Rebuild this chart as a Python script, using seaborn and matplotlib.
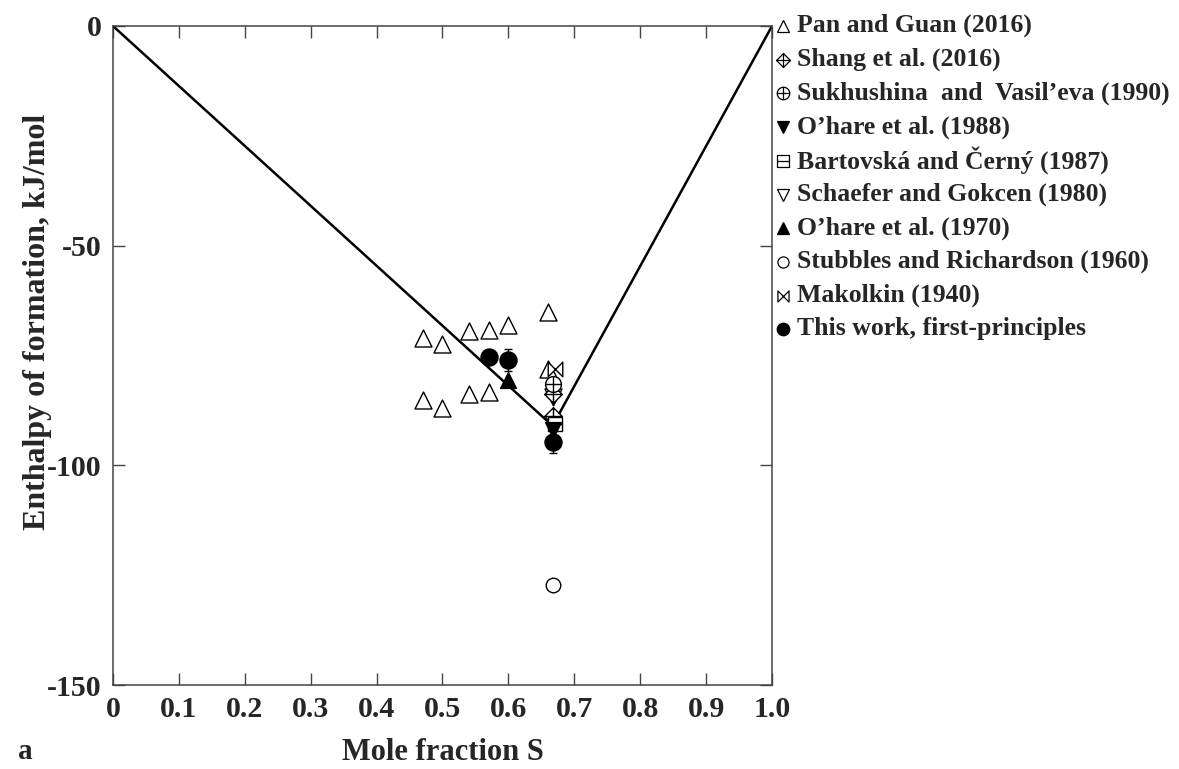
import numpy as np
import matplotlib
matplotlib.use("Agg")
import matplotlib.pyplot as plt
import seaborn as sns
from matplotlib.path import Path
from matplotlib.lines import Line2D

# ---------------- data ----------------
line_x = [0.0, 0.667, 1.0]
line_y = [0.0, -91.0, 0.0]

pan_x = [0.47, 0.50, 0.54, 0.57, 0.60, 0.66, 0.47, 0.50, 0.54, 0.57, 0.66]
pan_y = [-71.0, -72.3, -69.5, -69.3, -68.0, -65.0, -85.2, -87.0, -83.8, -83.2, -78.0]

shang_x = [0.667, 0.667]
shang_y = [-83.8, -88.8]

sukh_x = [0.667]
sukh_y = [-81.5]

ohare88_x = [0.667]
ohare88_y = [-92.0]

bart_x = [0.670]
bart_y = [-90.5]

schaefer_x = [0.667]
schaefer_y = [-84.5]

ohare70_x = [0.600]
ohare70_y = [-80.5]

stubbles_x = [0.667]
stubbles_y = [-127.2]

mako_x = [0.670]
mako_y = [-78.0]

tw_x = [0.571, 0.600, 0.667]
tw_y = [-75.3, -76.0, -94.7]
tw_err = [0.0, 2.5, 2.5]

legend_labels = [
    "Pan and Guan (2016)",
    "Shang et al. (2016)",
    "Sukhushina  and  Vasil\u2019eva (1990)",
    "O\u2019hare et al. (1988)",
    "Bartovsk\u00e1 and \u010cern\u00fd (1987)",
    "Schaefer and Gokcen (1980)",
    "O\u2019hare et al. (1970)",
    "Stubbles and Richardson (1960)",
    "Makolkin (1940)",
    "This work, first-principles",
]

xticks = [0, 0.1, 0.2, 0.3, 0.4, 0.5, 0.6, 0.7, 0.8, 0.9, 1.0]
xtick_labels = ["0", "0.1", "0.2", "0.3", "0.4", "0.5", "0.6", "0.7", "0.8", "0.9", "1.0"]
yticks = [0, -50, -100, -150]
ytick_labels = ["0", "-50", "-100", "-150"]

# ---------------- markers ----------------
cross = [Path([(-1, 0), (1, 0)]), Path([(0, -1), (0, 1)])]
diamond_plus = Path.make_compound_path(
    Path([(0, 1), (1, 0), (0, -1), (-1, 0), (0, 1)], closed=True), *cross)
circle_plus = Path.make_compound_path(Path.unit_circle(), *cross)
box_line = Path.make_compound_path(
    Path([(-1, -1), (1, -1), (1, 1), (-1, 1), (-1, -1)], closed=True),
    Path([(-1, 0), (1, 0)]))
bowtie = Path([(-1, 1), (-1, -1), (1, 1), (1, -1), (-1, 1)], closed=True)

# ---------------- style ----------------
sns.set_style("ticks")
plt.rcParams["font.family"] = ["Liberation Serif", "DejaVu Serif"]
plt.rcParams["font.weight"] = "bold"
plt.rcParams["axes.unicode_minus"] = False

W, H = 1179, 769
fig = plt.figure(figsize=(W / 100, H / 100), dpi=100)
ax = fig.add_axes([0.0958, 0.1092, 0.559, 0.857])

sns.lineplot(x=line_x, y=line_y, color="black", lw=1.8, ax=ax, zorder=2)

edge = "black"
lw = 1.0
sns.scatterplot(x=pan_x, y=pan_y, marker="^", s=150, color="white", edgecolor=edge, linewidth=lw, ax=ax, zorder=3)
sns.scatterplot(x=stubbles_x, y=stubbles_y, marker="o", s=110, color="white", edgecolor=edge, linewidth=lw, ax=ax, zorder=3)
sns.scatterplot(x=mako_x, y=mako_y, marker=bowtie, s=110, color="white", edgecolor=edge, linewidth=lw, ax=ax, zorder=3)
sns.scatterplot(x=schaefer_x, y=schaefer_y, marker="v", s=150, color="white", edgecolor=edge, linewidth=lw, ax=ax, zorder=3)
sns.scatterplot(x=shang_x, y=shang_y, marker=diamond_plus, s=160, color="white", edgecolor=edge, linewidth=lw, ax=ax, zorder=4)
sns.scatterplot(x=sukh_x, y=sukh_y, marker=circle_plus, s=130, color="white", edgecolor=edge, linewidth=lw, ax=ax, zorder=4)
sns.scatterplot(x=bart_x, y=bart_y, marker=box_line, s=110, color="white", edgecolor=edge, linewidth=lw, ax=ax, zorder=4)
sns.scatterplot(x=ohare70_x, y=ohare70_y, marker="^", s=130, color="black", edgecolor=edge, linewidth=lw, ax=ax, zorder=4)
sns.scatterplot(x=ohare88_x, y=ohare88_y, marker="v", s=130, color="black", edgecolor=edge, linewidth=lw, ax=ax, zorder=5)
ax.errorbar(tw_x, tw_y, yerr=tw_err, fmt="none", ecolor="black", elinewidth=1.0, capsize=3, zorder=5)
sns.scatterplot(x=tw_x, y=tw_y, marker="o", s=150, color="black", edgecolor=edge, linewidth=lw, ax=ax, zorder=6)

ax.set_xlim(0, 1.0)
ax.set_ylim(-150, 0)
ax.set_xticks(xticks)
ax.set_xticklabels(xtick_labels)
ax.set_yticks(yticks)
ax.set_yticklabels(ytick_labels)
ax.tick_params(direction="in", length=8.5, width=1.0, color="#444444",
               top=True, right=True, labelsize=21.5, pad=8)
for sp in ax.spines.values():
    sp.set_visible(True)
    sp.set_linewidth(1.1)
    sp.set_color("#444444")

ax.set_xlabel("Mole fraction S", fontsize=22, fontweight="bold", labelpad=11)
ax.set_ylabel("Enthalpy of formation, kJ/mol", fontsize=23, fontweight="bold")
ax.yaxis.set_label_coords(-0.093, 0.551)

fig.text(0.015, 0.013, "a", fontsize=21, fontweight="bold")

# ---------------- legend (evenly spaced rows, figure coords) ----------------
leg_markers = [
    ("^", "white", 8),
    (diamond_plus, "white", 10),
    (circle_plus, "white", 9),
    ("v", "black", 8),
    (box_line, "white", 8),
    ("v", "white", 8),
    ("^", "black", 8),
    ("o", "white", 8),
    (bowtie, "white", 8),
    ("o", "black", 9),
]
row0, drow = 23.0, 33.7
mx, tx = 783.0, 797.0
for i, ((mkr, face, size), lab) in enumerate(zip(leg_markers, legend_labels)):
    yc = 1 - (row0 + i * drow) / H
    fig.add_artist(Line2D([mx / W], [yc - 3 / H], ls="none", marker=mkr, markersize=size,
                          markerfacecolor=face, markeredgecolor="black",
                          markeredgewidth=0.9, transform=fig.transFigure))
    fig.text(tx / W, yc, lab, fontsize=18.5, fontweight="bold",
             ha="left", va="center_baseline")

fig.savefig("out.png", dpi=100)
